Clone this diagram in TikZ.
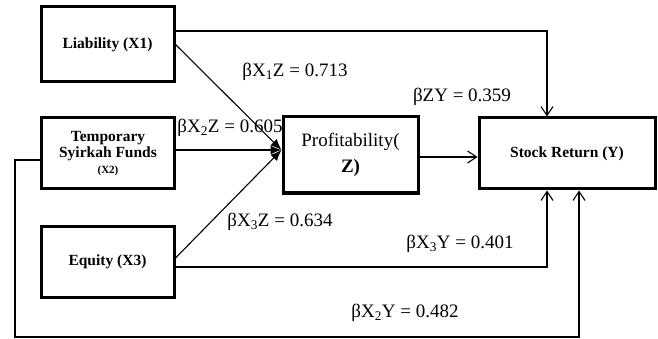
\documentclass[tikz,border=0pt]{standalone}
\usepackage{fontspec}
\setmainfont{Liberation Serif}
\usetikzlibrary{arrows.meta}

\begin{document}
\begin{tikzpicture}[
    x=1pt, y=-1pt,
    open/.style   = {-{Straight Barb[length=9pt, width=12pt]}},
    conv/.style   = {-{Latex[length=11pt, width=9pt]}},
    line/.style   = {line width=1.1pt},
    block/.style  = {draw, line width=3pt, fill=white, align=center, inner sep=0pt,
                     font=\bfseries\fontsize{15.5}{17}\selectfont},
    coef/.style   = {font=\fontsize{19}{21}\selectfont, inner sep=0pt}
]
\useasboundingbox (0,0) rectangle (658,339);

% Exogenous variables
\node[block, minimum width=133pt, minimum height=75pt] (X1) at (107.5, 44.5) {Liability (X1)};
\node[block, minimum width=133pt, minimum height=71pt] (X2) at (108, 153.5)
    {Temporary\\[-1pt]Syirkah Funds\\[-1pt]{\fontsize{11}{13}\selectfont(X2)}};
\node[block, minimum width=133pt, minimum height=71pt] (X3) at (107.5, 261.5) {Equity (X3)};

% Mediator and outcome
\node[block, minimum width=135pt, minimum height=76pt,
      font=\fontsize{19}{26}\selectfont] (Z) at (350.5, 155) {Profitability(\\\textbf{Z)}};
\node[block, minimum width=176pt, minimum height=71pt] (Y) at (567, 153.5) {Stock Return (Y)};

% Paths into the mediator
\coordinate (meet) at ([yshift=5pt]Z.west);
\draw[line, conv] (X1.east) -- (meet);
\draw[line, conv] (X2.east |- meet) -- (meet);
\draw[line, conv] ([yshift=3.5pt]X3.east) -- (meet);

% Mediator to outcome
\draw[line, open] ([yshift=-2pt]Z.east) -- ([yshift=-2pt]Z.east -| Y.west);

% Direct paths to the outcome
\draw[line, open] ([yshift=13.5pt]X1.east) -| ([xshift=-20pt]Y.north);
\draw[line, open] ([yshift=-5.5pt]X3.east) -| ([xshift=-20pt]Y.south);
\coordinate (loop) at (15, 337);
\draw[line, open] ([yshift=-6.5pt]X2.west) -| (loop) -| ([xshift=12pt]Y.south);

% Path coefficients
\node[coef] (bX1Z) at (295, 72)  {βX\textsubscript{1}Z = 0.713};
\node[coef] (bX2Z) at (230, 128) {βX\textsubscript{2}Z = 0.605};
\node[coef] (bZY)  at (462, 97)  {βZY = 0.359};
\node[coef] (bX3Z) at (280, 222) {βX\textsubscript{3}Z = 0.634};
\node[coef] (bX3Y) at (460, 244) {βX\textsubscript{3}Y = 0.401};
\node[coef] (bX2Y) at (405, 313) {βX\textsubscript{2}Y = 0.482};

\end{tikzpicture}
\end{document}
